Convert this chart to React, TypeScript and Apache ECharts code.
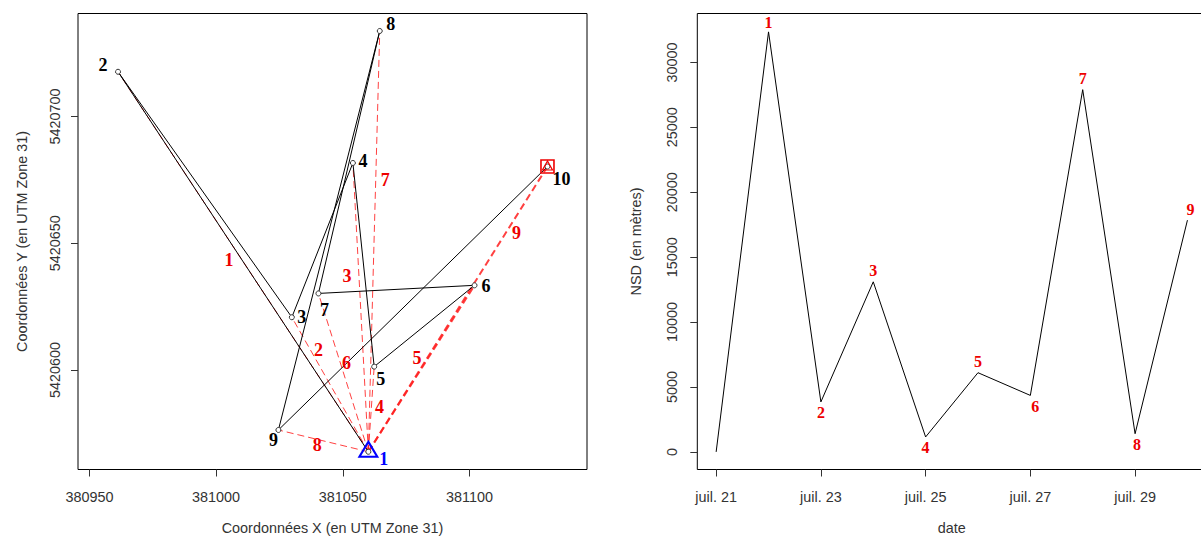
import React, { useEffect, useRef } from "react";
import * as echarts from "echarts";

// ---- data ----
const pointIds = ["1", "2", "3", "4", "5", "6", "7", "8", "9", "10"];
const utmX = [381060.1, 380961.3, 381029.9, 381054.0, 381062.4, 381102.0, 381040.4, 381064.6, 381024.6, 381130.8];
const utmY = [5420567.7, 5420717.7, 5420620.8, 5420681.7, 5420601.3, 5420633.4, 5420630.2, 5420733.8, 5420576.3, 5420680.3];
const legNames = ["1", "2", "3", "4", "5", "6", "7", "8", "9"];
const days = [21, 22, 23, 24, 25, 26, 27, 28, 29, 30];
const nsd = [0, 32350, 3850, 13100, 1150, 6100, 4350, 27900, 1400, 17850];
const xTicks = [380950, 381000, 381050, 381100];
const yTicks = [5420600, 5420650, 5420700];
const dayTicks = [21, 23, 25, 27, 29];
const nsdTicks = [0, 5000, 10000, 15000, 20000, 25000, 30000];

// ---- layout / style helpers (not data) ----
const legLabelFrac = [0.505, 0.757, 0.609, 0.53, 0.561, 0.559, 0.646, 0.569, 0.766];
const legLabelShift = [[-13, 0], [8, 0], [-12, 0], [8, 0], [-11, 0], [6, 0], [9.5, 0], [0, 5.6], [11, 0]];
const legWidth = [1, 1, 1, 1, 2, 1, 1, 1, 2];
const ptLabelShift = [[15.5, 7.6], [-15, -7], [10, 0], [10, -2], [6.5, 12.6], [11.5, 1], [6, 17], [11, -7], [-5, 10], [14, 12]];
const nsdLabelSide = ["", "top", "bottom", "top", "bottom", "top", "bottom", "top", "bottom", "top"];
const nsdLabelShift = [[0, 0], [0, 2], [0, 0], [0, 0], [0, 0], [0, 0], [5, 0], [0, 0], [2, 0], [3, 0]];

const RED = "#ee0000";
const SERIF = "'Liberation Serif', 'Times New Roman', serif";
const SANS = "'Liberation Sans', Arial, sans-serif";
const AXIS_COLOR = "#333";

export default function App() {
  const ref = useRef<HTMLDivElement>(null);
  useEffect(() => {
    if (!ref.current) return;
    const chart = echarts.init(ref.current, null, { renderer: "svg" });

    const series: any[] = [];
    for (let k = 1; k < pointIds.length; k++) {
      series.push({
        type: "line",
        xAxisIndex: 0,
        yAxisIndex: 0,
        data: [[utmX[0], utmY[0]], [utmX[k], utmY[k]]],
        symbol: "none",
        z: 2,
        lineStyle: { color: "#ff2020", width: legWidth[k - 1], type: [7, 4], opacity: 0.85 },
        silent: true,
      });
    }
    series.push({
      type: "line",
      xAxisIndex: 0,
      yAxisIndex: 0,
      z: 3,
      data: pointIds.map((id, i) => ({
        value: [utmX[i], utmY[i]],
        name: id,
        label: {
          offset: ptLabelShift[i],
          color: i === 0 ? "#0000ff" : "#000",
        },
      })),
      symbol: "circle",
      symbolSize: 5,
      showSymbol: true,
      itemStyle: { color: "#fff", borderColor: "#333", borderWidth: 1 },
      lineStyle: { color: "#000", width: 1 },
      label: {
        show: true,
        position: "inside",
        formatter: "{b}",
        fontFamily: SERIF,
        fontWeight: "bold",
        fontSize: 18,
        color: "#000",
        textBorderWidth: 0,
      },
    });
    series.push({
      type: "scatter",
      xAxisIndex: 0,
      yAxisIndex: 0,
      z: 4,
      data: [[utmX[0], utmY[0]]],
      symbol: "triangle",
      symbolSize: [18, 15],
      symbolOffset: [0, -2.5],
      itemStyle: { color: "rgba(0,0,0,0)", borderColor: "#0000ff", borderWidth: 2, opacity: 1 },
    });
    const last = pointIds.length - 1;
    series.push({
      type: "scatter",
      xAxisIndex: 0,
      yAxisIndex: 0,
      z: 4,
      data: [[utmX[last], utmY[last]]],
      symbol: "rect",
      symbolSize: 13,
      itemStyle: { color: "rgba(0,0,0,0)", borderColor: RED, borderWidth: 1.6, opacity: 1 },
    });
    series.push({
      type: "scatter",
      xAxisIndex: 0,
      yAxisIndex: 0,
      z: 4,
      data: [[utmX[last], utmY[last]]],
      symbol: "triangle",
      symbolSize: [10, 9],
      symbolOffset: [0, -1],
      itemStyle: { color: "rgba(0,0,0,0)", borderColor: RED, borderWidth: 1.2, opacity: 1 },
    });
    series.push({
      type: "scatter",
      xAxisIndex: 0,
      yAxisIndex: 0,
      z: 5,
      symbolSize: 0,
      itemStyle: { opacity: 1 },
      data: legNames.map((nm, j) => {
        const k = j + 1;
        const t = legLabelFrac[j];
        return {
          value: [utmX[0] + t * (utmX[k] - utmX[0]), utmY[0] + t * (utmY[k] - utmY[0])],
          name: nm,
          label: { offset: legLabelShift[j] },
        };
      }),
      label: {
        show: true,
        position: "inside",
        formatter: "{b}",
        fontFamily: SERIF,
        fontWeight: "bold",
        fontSize: 18,
        color: RED,
        opacity: 1,
        textBorderWidth: 0,
      },
      silent: true,
    });
    series.push({
      type: "line",
      xAxisIndex: 1,
      yAxisIndex: 1,
      data: days.map((d, i) => ({
        value: [d, nsd[i]],
        name: i === 0 ? "" : String(i),
        label: nsdLabelSide[i]
          ? { show: true, position: nsdLabelSide[i], offset: nsdLabelShift[i] }
          : { show: false },
      })),
      symbol: "circle",
      symbolSize: 0,
      showSymbol: true,
      itemStyle: { color: "rgba(0,0,0,0)", borderWidth: 0 },
      lineStyle: { color: "#000", width: 1 },
      label: {
        show: true,
        formatter: "{b}",
        distance: 3,
        fontFamily: SERIF,
        fontWeight: "bold",
        fontSize: 16,
        color: RED,
        textBorderWidth: 0,
      },
    });

    const tickStyle = { show: true, length: 7, inside: false, lineStyle: { color: AXIS_COLOR, width: 1 } };
    const labelStyle = { fontSize: 14.4, color: AXIS_COLOR, fontFamily: SANS };
    const nameStyle = { fontSize: 14.4, color: AXIS_COLOR, fontFamily: SANS };
    const noLine = { show: false, onZero: false };

    chart.setOption({
      animation: false,
      backgroundColor: "#fff",
      textStyle: { fontFamily: SANS },
      grid: [
        { left: 78, top: 13.5, width: 509, height: 456, outerBoundsMode: "none", containLabel: false, show: true, borderColor: "#000", borderWidth: 1, backgroundColor: "rgba(0,0,0,0)" },
        { left: 697.3, top: 13.5, width: 509, height: 456, outerBoundsMode: "none", containLabel: false, show: true, borderColor: "#000", borderWidth: 1, backgroundColor: "rgba(0,0,0,0)" },
      ],
      xAxis: [
        {
          gridIndex: 0,
          type: "value",
          position: "bottom",
          min: 380945.5,
          max: 381146.4,
          axisLine: noLine,
          splitLine: { show: false },
          axisTick: { ...tickStyle, customValues: xTicks },
          axisLabel: { ...labelStyle, customValues: xTicks, margin: 20, formatter: (v: number) => String(v) },
          name: "Coordonnées X (en UTM Zone 31)",
          nameLocation: "middle",
          nameGap: 51,
          nameTextStyle: nameStyle,
        },
        {
          gridIndex: 1,
          type: "value",
          position: "bottom",
          min: 20.64,
          max: 30.36,
          axisLine: noLine,
          splitLine: { show: false },
          axisTick: { ...tickStyle, customValues: dayTicks },
          axisLabel: { ...labelStyle, customValues: dayTicks, margin: 20, formatter: (v: number) => "juil. " + v },
          name: "date",
          nameLocation: "middle",
          nameGap: 51,
          nameTextStyle: nameStyle,
        },
      ],
      yAxis: [
        {
          gridIndex: 0,
          type: "value",
          position: "left",
          min: 5420560.7,
          max: 5420740.7,
          axisLine: noLine,
          splitLine: { show: false },
          axisTick: { ...tickStyle, customValues: yTicks },
          axisLabel: { ...labelStyle, customValues: yTicks, rotate: 90, margin: 16, formatter: (v: number) => String(v) },
          name: "Coordonnées Y (en UTM Zone 31)",
          nameLocation: "middle",
          nameRotate: 90,
          nameGap: 49,
          nameTextStyle: nameStyle,
        },
        {
          gridIndex: 1,
          type: "value",
          position: "left",
          min: -1356,
          max: 33766,
          axisLine: noLine,
          splitLine: { show: false },
          axisTick: { ...tickStyle, customValues: nsdTicks },
          axisLabel: { ...labelStyle, customValues: nsdTicks, rotate: 90, margin: 18, formatter: (v: number) => String(v) },
          name: "NSD (en mètres)",
          nameLocation: "middle",
          nameRotate: 90,
          nameGap: 54,
          nameTextStyle: nameStyle,
        },
      ],
      series,
    });
    return () => chart.dispose();
  }, []);
  return (
    <div
      ref={ref}
      style={{ position: "absolute", left: 0, top: 0, width: 1201, height: 537, background: "#fff" }}
    />
  );
}
